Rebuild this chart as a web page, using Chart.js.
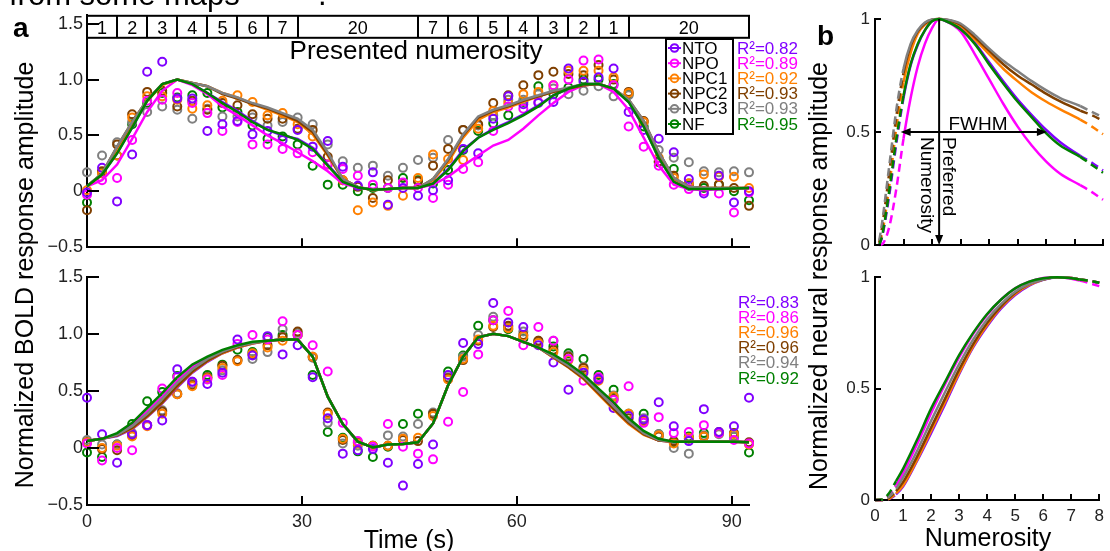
<!DOCTYPE html>
<html><head><meta charset="utf-8">
<script src="https://cdn.jsdelivr.net/npm/chart.js@4.4.1/dist/chart.umd.min.js"></script>
<style>
html,body{margin:0;padding:0;background:#fff;}
#wrap{position:relative;width:1110px;height:551px;overflow:hidden;background:#fff;}
canvas{position:absolute;}
</style></head><body>
<div id="wrap">
<canvas id="cTL" width="812" height="262" style="left:0;top:0;width:812px;height:262px"></canvas>
<canvas id="cBL" width="812" height="289" style="left:0;top:262px;width:812px;height:289px"></canvas>
<canvas id="cTR" width="280" height="262" style="left:830px;top:0;width:280px;height:262px"></canvas>
<canvas id="cBR" width="280" height="289" style="left:830px;top:262px;width:280px;height:289px"></canvas>
<canvas id="ov" width="1110" height="551" style="left:0;top:0;width:1110px;height:551px;pointer-events:none"></canvas>
</div>
<script>
const FONT = '"Liberation Sans", Arial, Helvetica, sans-serif';
Chart.defaults.font.family = FONT;
Chart.defaults.color = '#222';

// ---------- shared ----------
const seriesNames = ['NTO','NPO','NPC1','NPC2','NPC3','NF'];
const seriesColors = ['#8000ff','#ff00ff','#ff8000','#7f3f00','#808080','#008000'];
const r2Top = ['0.82','0.89','0.92','0.93','0.93','0.95'];
const r2Bottom = ['0.83','0.86','0.96','0.96','0.94','0.92'];

// ---------- panel a ----------
const timeS = [0,2.1,4.2,6.3,8.4,10.5,12.6,14.7,16.8,18.9,21,23.1,25.2,27.3,29.4,31.5,33.6,35.7,37.8,39.9,42,44.1,46.2,48.3,50.4,52.5,54.6,56.7,58.8,60.9,63,65.1,67.2,69.3,71.4,73.5,75.6,77.7,79.8,81.9,84,86.1,88.2,90.3,92.4];
const numLabels = ['1','2','3','4','5','6','7','20','7','6','5','4','3','2','1','20'];
const numEdges = [0,4.2,8.4,12.6,16.8,21,25.2,29.4,46.2,50.4,54.6,58.8,63,67.2,71.4,75.6,92.4];
const yTicksA = [-0.5,0,0.5,1,1.5];
const yTickLabelsA = ['\u22120.5','0','0.5','1.0','1.5'];
const xTicksA = [0,30,60,90];
const xTickLabelsA = ['0','30','60','90'];

// top: measured points
const topNTO  = [-0.01,0.21,-0.09,0.33,1.07,1.16,0.83,0.83,0.54,0.60,0.63,0.51,0.54,0.46,0.55,0.40,0.45,0.22,0.05,0.17,-0.12,0.03,-0.04,0.01,0.10,0.38,0.34,0.65,0.85,0.78,0.79,0.80,1.10,0.98,1.02,1.10,0.71,0.55,0.47,0.35,0.11,-0.02,0.14,-0.10,0.00];
const topNPO  = [-0.03,0.10,0.12,0.46,0.81,0.82,0.88,0.79,0.70,0.54,0.62,0.42,0.42,0.38,0.34,0.35,0.24,0.20,0.14,0.06,0.03,0.08,0.03,-0.06,0.06,0.20,0.26,0.54,0.76,0.74,0.80,0.95,1.00,1.17,1.18,0.95,0.58,0.40,0.23,0.06,0.02,0.00,-0.02,-0.19,-0.01];
const topNPC1 = [0.01,0.16,0.32,0.66,0.85,0.85,0.82,0.74,0.77,0.81,0.86,0.80,0.68,0.70,0.60,0.49,0.24,0.10,-0.17,-0.10,-0.13,-0.04,0.12,0.33,0.29,0.28,0.56,0.72,0.79,0.87,0.89,0.95,1.08,1.08,1.08,1.02,0.88,0.62,0.30,0.12,0.07,0.15,0.13,0.13,0.03];
const topNPC2 = [-0.17,0.18,0.42,0.69,0.89,0.90,0.76,0.81,0.73,0.79,0.77,0.69,0.65,0.65,0.56,0.55,0.31,0.10,0.04,-0.06,0.10,0.07,0.09,0.23,0.38,0.55,0.60,0.79,0.86,0.95,1.04,1.07,1.05,1.04,1.13,1.00,0.89,0.63,0.27,0.14,0.07,0.05,0.06,0.03,-0.13];
const topNPC3 = [0.17,0.32,0.44,0.62,0.71,0.76,0.73,0.65,0.74,0.67,0.67,0.66,0.59,0.62,0.66,0.60,0.42,0.27,0.21,0.23,0.14,0.21,0.28,0.30,0.46,0.55,0.59,0.68,0.82,0.82,0.87,0.92,0.87,0.90,0.94,0.85,0.86,0.62,0.37,0.30,0.26,0.18,0.17,0.18,0.17];
const topNF   = [-0.10,0.17,0.32,0.60,0.79,0.88,0.84,0.86,0.88,0.75,0.71,0.59,0.47,0.49,0.42,0.23,0.06,0.06,0.00,0.03,0.03,0.12,0.10,0.07,0.19,0.37,0.54,0.61,0.68,0.80,0.94,0.87,0.93,1.00,1.00,0.96,0.87,0.58,0.26,0.20,0.05,0.03,0.06,0.00,-0.08];
// top: model fits
const fitTopNTO  = [0.045,0.15,0.34,0.57,0.81,0.96,1.0,0.96,0.88,0.80,0.72,0.63,0.55,0.50,0.47,0.39,0.24,0.09,0.035,0.015,0.02,0.03,0.03,0.07,0.20,0.37,0.48,0.56,0.62,0.69,0.77,0.86,0.92,0.96,0.96,0.92,0.80,0.58,0.30,0.09,0.02,0.02,0.02,0.025,0.03];
const fitTopNPO  = [0.045,0.10,0.24,0.47,0.71,0.90,1.0,0.95,0.87,0.76,0.68,0.59,0.50,0.43,0.35,0.27,0.18,0.07,0.035,0.02,0.02,0.03,0.03,0.06,0.13,0.23,0.32,0.41,0.46,0.56,0.68,0.79,0.89,0.95,0.96,0.89,0.73,0.48,0.23,0.06,0.02,0.01,0.02,0.025,0.03];
const fitTopNPC1 = [0.045,0.15,0.38,0.60,0.81,0.95,1.0,0.97,0.94,0.88,0.84,0.78,0.73,0.68,0.62,0.51,0.32,0.11,0.04,0.01,0.02,0.03,0.03,0.10,0.26,0.48,0.64,0.71,0.75,0.80,0.85,0.89,0.92,0.95,0.96,0.92,0.81,0.62,0.34,0.11,0.04,0.03,0.03,0.03,0.03];
const fitTopNPC2 = [0.045,0.16,0.40,0.62,0.82,0.96,1.0,0.97,0.94,0.87,0.83,0.78,0.74,0.69,0.63,0.53,0.33,0.11,0.04,0.01,0.02,0.03,0.03,0.11,0.28,0.50,0.66,0.72,0.76,0.81,0.85,0.89,0.92,0.95,0.96,0.92,0.82,0.63,0.35,0.12,0.04,0.03,0.03,0.03,0.03];
const fitTopNPC3 = [0.045,0.16,0.40,0.62,0.82,0.96,1.0,0.97,0.94,0.88,0.84,0.79,0.75,0.70,0.65,0.55,0.35,0.11,0.04,0.01,0.02,0.03,0.03,0.11,0.29,0.51,0.67,0.73,0.77,0.82,0.86,0.90,0.93,0.96,0.96,0.92,0.82,0.63,0.35,0.12,0.04,0.03,0.03,0.03,0.03];
const fitTopNF   = [0.045,0.15,0.34,0.57,0.81,0.96,1.0,0.96,0.88,0.79,0.71,0.62,0.55,0.51,0.46,0.38,0.23,0.085,0.035,0.015,0.02,0.03,0.03,0.07,0.19,0.36,0.48,0.55,0.61,0.68,0.76,0.86,0.92,0.96,0.96,0.92,0.80,0.58,0.30,0.085,0.02,0.02,0.02,0.025,0.03];

// bottom: measured points
const botNTO  = [0.44,0.12,-0.13,0.12,0.20,0.24,0.69,0.58,0.56,0.66,0.95,0.81,0.98,0.82,0.90,0.62,0.26,-0.05,-0.02,-0.01,-0.13,-0.33,-0.14,0.03,0.64,0.92,0.91,1.27,1.10,1.06,0.90,0.75,0.51,0.66,0.60,0.35,0.28,0.25,0.40,0.19,0.06,0.34,0.14,0.19,0.44];
const botNPO  = [0.04,-0.11,0.00,-0.02,0.20,0.52,0.62,0.58,0.60,0.64,0.91,0.99,0.95,1.11,0.99,0.90,0.67,0.22,0.06,0.01,0.21,0.01,-0.05,-0.10,0.23,0.49,0.82,1.12,1.20,0.90,1.06,0.94,0.78,0.59,0.62,0.42,0.54,0.22,0.27,0.13,0.14,0.20,0.13,0.07,0.04];
const botNPC1 = [0.05,0.00,0.02,0.10,0.19,0.30,0.47,0.54,0.61,0.70,0.76,0.83,0.88,0.94,0.99,0.80,0.30,0.08,0.04,0.02,0.02,0.08,0.09,0.28,0.60,0.78,0.95,1.07,1.05,0.98,0.92,0.84,0.77,0.68,0.59,0.45,0.30,0.23,0.11,0.04,0.09,0.10,0.13,0.12,0.03];
const botNPC2 = [0.05,-0.01,-0.02,0.11,0.20,0.32,0.47,0.55,0.62,0.72,0.77,0.82,0.90,0.97,1.02,0.80,0.31,0.07,0.05,0.02,0.02,0.07,0.06,0.30,0.61,0.77,0.94,1.06,1.07,0.99,0.94,0.86,0.80,0.70,0.61,0.43,0.26,0.24,0.10,0.06,0.08,0.10,0.14,0.13,0.05];
const botNPC3 = [0.07,0.03,0.03,0.13,0.20,0.33,0.48,0.56,0.62,0.68,0.77,0.78,0.84,1.04,1.01,0.79,0.22,0.04,0.02,0.02,0.11,0.10,0.21,0.31,0.62,0.80,0.99,1.15,1.06,1.02,0.94,0.94,0.81,0.71,0.61,0.46,0.30,0.26,0.12,0.00,-0.05,0.11,0.12,0.10,0.04];
const botNF   = [-0.04,-0.08,0.03,0.21,0.41,0.49,0.63,0.56,0.64,0.73,0.86,0.84,0.97,0.99,0.99,0.64,0.14,0.09,-0.03,-0.08,0.01,0.21,0.30,0.30,0.67,0.81,1.07,1.12,1.04,0.96,0.93,0.89,0.83,0.78,0.64,0.51,0.30,0.30,0.12,0.05,0.10,0.13,0.13,0.10,-0.04];
// bottom: model fits
const fitBotNTO  = [0.06,0.08,0.105,0.165,0.27,0.39,0.53,0.66,0.755,0.83,0.88,0.915,0.94,0.95,0.95,0.80,0.45,0.21,0.055,0.005,0.03,0.035,0.05,0.215,0.55,0.80,0.97,1.0,0.98,0.93,0.88,0.795,0.71,0.61,0.475,0.34,0.215,0.12,0.065,0.055,0.055,0.055,0.055,0.055,0.05];
const fitBotNPO  = [0.06,0.08,0.12,0.20,0.32,0.45,0.59,0.71,0.79,0.85,0.895,0.925,0.94,0.95,0.95,0.80,0.45,0.21,0.055,0.005,0.03,0.035,0.05,0.215,0.55,0.80,0.97,1.0,0.98,0.93,0.88,0.81,0.735,0.64,0.515,0.39,0.25,0.14,0.075,0.055,0.055,0.055,0.055,0.055,0.05];
const fitBotNPC1 = [0.06,0.08,0.11,0.17,0.275,0.395,0.54,0.665,0.76,0.83,0.88,0.915,0.94,0.95,0.95,0.80,0.45,0.21,0.055,0.005,0.03,0.035,0.05,0.215,0.55,0.80,0.97,1.0,0.98,0.93,0.88,0.79,0.705,0.605,0.47,0.335,0.21,0.115,0.065,0.055,0.055,0.055,0.055,0.055,0.05];
const fitBotNPC2 = [0.06,0.08,0.11,0.175,0.28,0.40,0.545,0.67,0.765,0.835,0.885,0.92,0.94,0.95,0.95,0.80,0.45,0.21,0.055,0.005,0.03,0.035,0.05,0.215,0.55,0.80,0.97,1.0,0.98,0.93,0.88,0.795,0.71,0.61,0.48,0.345,0.22,0.12,0.065,0.055,0.055,0.055,0.055,0.055,0.05];
const fitBotNPC3 = [0.06,0.08,0.115,0.19,0.30,0.43,0.57,0.69,0.78,0.845,0.89,0.92,0.94,0.95,0.95,0.80,0.45,0.21,0.055,0.005,0.03,0.035,0.05,0.215,0.55,0.80,0.97,1.0,0.98,0.93,0.88,0.80,0.72,0.625,0.495,0.365,0.235,0.13,0.07,0.055,0.055,0.055,0.055,0.055,0.05];
const fitBotNF   = [0.06,0.08,0.13,0.22,0.35,0.48,0.62,0.73,0.80,0.86,0.90,0.93,0.94,0.95,0.95,0.80,0.45,0.21,0.055,0.005,0.03,0.035,0.05,0.215,0.55,0.80,0.97,1.0,0.98,0.93,0.88,0.82,0.74,0.645,0.52,0.40,0.26,0.15,0.08,0.055,0.055,0.055,0.055,0.055,0.05];

// ---------- panel b ----------
const yTicksB = [0,0.5,1];
const yTickLabelsB = ['0','0.5','1'];
const xTicksB = [0,1,2,3,4,5,6,7,8];
const xTickLabelsB = ['0','1','2','3','4','5','6','7','8'];
const prefNumerosity = 2.25;
const fwhmRange = [0.9, 6.03];

const numTop = [0.15,0.25,0.5,0.75,1,1.25,1.5,1.75,2,2.25,2.5,3,3.5,4,4.5,5,5.5,6,6.5,7.2,7.6,8];
const tunTopNTO  = [0,0.035,0.22,0.45,0.65,0.795,0.885,0.95,0.99,1.0,0.99,0.96,0.895,0.81,0.725,0.645,0.575,0.51,0.455,0.395,0.365,0.33];
const tunTopNPO  = [0,0.003,0.08,0.25,0.47,0.65,0.79,0.89,0.96,1.0,0.99,0.945,0.845,0.735,0.625,0.525,0.44,0.37,0.315,0.265,0.235,0.20];
const tunTopNPC1 = [0.01,0.05,0.26,0.52,0.72,0.85,0.935,0.975,0.995,1.0,0.995,0.97,0.91,0.845,0.78,0.725,0.675,0.635,0.60,0.555,0.525,0.49];
const tunTopNPC2 = [0.01,0.08,0.32,0.57,0.76,0.88,0.945,0.98,0.997,1.0,0.997,0.975,0.92,0.86,0.80,0.75,0.71,0.67,0.635,0.595,0.575,0.55];
const tunTopNPC3 = [0.02,0.10,0.35,0.60,0.78,0.89,0.95,0.985,0.998,1.0,0.998,0.98,0.93,0.87,0.815,0.77,0.725,0.685,0.65,0.615,0.59,0.565];
const tunTopNF   = [0,0.04,0.24,0.47,0.66,0.80,0.89,0.95,0.99,1.0,0.99,0.955,0.89,0.80,0.715,0.635,0.565,0.495,0.44,0.39,0.355,0.32];

const numBot = [0,0.25,0.5,0.75,1,1.5,2,2.5,3,3.5,4,4.5,5,5.5,6,6.5,7,7.3,7.6,8];
const tunBotNTO  = [0,0,0.005,0.025,0.06,0.175,0.30,0.43,0.565,0.685,0.78,0.86,0.92,0.962,0.988,1.0,0.997,0.99,0.985,0.975];
const tunBotNPO  = [0,0,0.02,0.065,0.12,0.25,0.39,0.52,0.64,0.745,0.83,0.90,0.95,0.98,0.997,1.0,0.993,0.985,0.975,0.96];
const tunBotNPC1 = [0,0,0.005,0.03,0.065,0.18,0.31,0.44,0.57,0.69,0.785,0.865,0.925,0.965,0.99,1.0,0.997,0.99,0.985,0.975];
const tunBotNPC2 = [0,0,0.01,0.04,0.08,0.195,0.325,0.455,0.585,0.70,0.795,0.87,0.93,0.97,0.99,1.0,0.997,0.99,0.985,0.975];
const tunBotNPC3 = [0,0,0.015,0.05,0.10,0.22,0.355,0.485,0.61,0.72,0.81,0.88,0.935,0.97,0.99,1.0,0.997,0.99,0.985,0.975];
const tunBotNF   = [0,0.002,0.03,0.085,0.14,0.27,0.41,0.53,0.65,0.75,0.835,0.90,0.95,0.98,0.995,1.0,0.995,0.99,0.985,0.975];

// ---------- helpers ----------
const lineOrder = [5,4,3,2,1,0]; // NF drawn on top
function axis(o) {
  return {
    type: 'linear', min: o.min, max: o.max,
    grid: {display: false, drawTicks: false},
    border: {display: true, color: '#000', width: 2},
    afterBuildTicks: ax => { ax.ticks = o.ticks.map(v => ({value: v})); },
    afterFit: ax => { if (o.isY) ax.width = o.size; else ax.height = o.size; },
    ticks: {display: o.show, autoSkip: false, maxRotation: 0, minRotation: 0, padding: o.pad,
            font: {size: o.fs}, color: '#222', callback: (v, i) => o.labels[i]}
  };
}
function panelA(pts, fits) {
  const ds = [];
  fits.forEach((f, k) => ds.push({
    data: timeS.map((t, i) => ({x: t, y: f[i]})), borderColor: seriesColors[k], borderWidth: 2.5,
    pointRadius: 0, tension: 0, fill: false, clip: false, order: lineOrder[k]
  }));
  pts.forEach((p, k) => ds.push({
    data: timeS.map((t, i) => ({x: t, y: p[i]})), showLine: false, borderColor: seriesColors[k],
    backgroundColor: 'rgba(0,0,0,0)', pointRadius: 4, pointBorderWidth: 2,
    pointBorderColor: seriesColors[k], pointBackgroundColor: 'rgba(0,0,0,0)', clip: false, order: 6 + k
  }));
  return ds;
}
function panelB(xs, series, lo, hi) {
  return series.map((vals, k) => ({
    data: xs.map((x, i) => ({x: x, y: vals[i]})), borderColor: seriesColors[k], borderWidth: 2.5,
    pointRadius: 0, fill: false, clip: false, cubicInterpolationMode: 'monotone', order: lineOrder[k],
    segment: {borderDash: c => (xs[c.p1DataIndex] <= lo + 1e-6 || xs[c.p0DataIndex] >= hi - 1e-6) ? [8, 5] : undefined}
  }));
}

// ---------- plugins ----------
const inTicks = {
  id: 'inTicks',
  afterDraw(chart, args, o) {
    const ctx = chart.ctx, xs = chart.scales.x, ys = chart.scales.y, a = chart.chartArea;
    ctx.save(); ctx.strokeStyle = '#000'; ctx.lineWidth = 2; ctx.beginPath();
    xs.ticks.forEach(t => { const p = Math.round(xs.getPixelForValue(t.value)); ctx.moveTo(p, a.bottom); ctx.lineTo(p, a.bottom - o.xLen); });
    ys.ticks.forEach(t => { const p = Math.round(ys.getPixelForValue(t.value)); ctx.moveTo(a.left, p); ctx.lineTo(a.left + o.yLen, p); });
    ctx.stroke(); ctx.restore();
  }
};
const decorA = {
  id: 'decorA',
  afterDraw(chart, args, o) {
    const ctx = chart.ctx, xs = chart.scales.x, a = chart.chartArea;
    ctx.save();
    if (o.boxes) {
      const top = a.top + 1, h = 22;
      ctx.strokeStyle = '#000'; ctx.lineWidth = 2; ctx.fillStyle = '#000';
      const x0 = xs.getPixelForValue(numEdges[0]), x1 = xs.getPixelForValue(numEdges[numEdges.length - 1]);
      ctx.strokeRect(x0, top, x1 - x0, h);
      ctx.beginPath();
      for (let i = 1; i < numEdges.length - 1; i++) { const p = Math.round(xs.getPixelForValue(numEdges[i])); ctx.moveTo(p, top); ctx.lineTo(p, top + h); }
      ctx.stroke();
      ctx.font = '18px ' + FONT; ctx.textAlign = 'center'; ctx.textBaseline = 'alphabetic';
      numLabels.forEach((l, i) => ctx.fillText(l, (xs.getPixelForValue(numEdges[i]) + xs.getPixelForValue(numEdges[i + 1])) / 2, top + 18));
      ctx.font = '26px ' + FONT;
      ctx.fillText('Presented numerosity', 416, 59);
    }
    if (o.legend) {
      ctx.strokeStyle = '#000'; ctx.lineWidth = 2;
      ctx.strokeRect(666, 39, 67, 95);
      ctx.font = '17px ' + FONT; ctx.textAlign = 'left'; ctx.textBaseline = 'middle';
      seriesNames.forEach((n, k) => {
        const y = 48 + 15.2 * k;
        ctx.strokeStyle = seriesColors[k]; ctx.lineWidth = 2;
        ctx.beginPath(); ctx.moveTo(668, y); ctx.lineTo(681, y); ctx.stroke();
        ctx.beginPath(); ctx.arc(674.5, y, 3.8, 0, 2 * Math.PI); ctx.stroke();
        ctx.fillStyle = '#000'; ctx.fillText(n, 682, y + 1);
      });
    }
    if (o.r2) {
      ctx.font = '17px ' + FONT; ctx.textAlign = 'left'; ctx.textBaseline = 'middle';
      o.r2.forEach((v, k) => { ctx.fillStyle = seriesColors[k]; ctx.fillText('R\u00b2=' + v, o.r2x, o.r2y + 15.2 * k + 1); });
    }
    ctx.restore();
  }
};
const decorB = {
  id: 'decorB',
  afterDraw(chart, args, o) {
    if (!o.show) return;
    const ctx = chart.ctx, xs = chart.scales.x, ys = chart.scales.y;
    const px = xs.getPixelForValue(prefNumerosity), yT = ys.getPixelForValue(1), yB = ys.getPixelForValue(0);
    const yh = ys.getPixelForValue(0.5), xa = xs.getPixelForValue(fwhmRange[0]), xb = xs.getPixelForValue(fwhmRange[1]);
    ctx.save(); ctx.strokeStyle = '#000'; ctx.fillStyle = '#000'; ctx.lineWidth = 2;
    ctx.beginPath(); ctx.moveTo(px, yT); ctx.lineTo(px, yB - 8); ctx.moveTo(xa + 8, yh); ctx.lineTo(xb - 8, yh); ctx.stroke();
    ctx.beginPath(); ctx.moveTo(px, yB); ctx.lineTo(px - 4, yB - 10); ctx.lineTo(px + 4, yB - 10); ctx.closePath(); ctx.fill();
    ctx.beginPath(); ctx.moveTo(xa, yh); ctx.lineTo(xa + 10, yh - 4); ctx.lineTo(xa + 10, yh + 4); ctx.closePath(); ctx.fill();
    ctx.beginPath(); ctx.moveTo(xb, yh); ctx.lineTo(xb - 10, yh - 4); ctx.lineTo(xb - 10, yh + 4); ctx.closePath(); ctx.fill();
    ctx.font = '19px ' + FONT; ctx.textAlign = 'center'; ctx.textBaseline = 'alphabetic';
    ctx.fillText('FWHM', 148, yh - 2);
    ctx.translate(px + 4, yh + 5); ctx.rotate(Math.PI / 2); ctx.textAlign = 'left';
    ctx.fillText('Preferred', 0, 0);
    ctx.fillText('Numerosity', 0, 22);
    ctx.restore();
  }
};

function makeChart(id, datasets, pad, xs, ys, plug) {
  return new Chart(document.getElementById(id), {
    type: 'line',
    data: {datasets},
    options: {
      responsive: false, animation: false, devicePixelRatio: 1,
      layout: {padding: pad},
      scales: {x: xs, y: ys},
      plugins: Object.assign({legend: {display: false}, tooltip: {enabled: false}}, plug)
    },
    plugins: [inTicks, decorA, decorB]
  });
}

// top-left
makeChart('cTL',
  panelA([topNTO, topNPO, topNPC1, topNPC2, topNPC3, topNF], [fitTopNTO, fitTopNPO, fitTopNPC1, fitTopNPC2, fitTopNPC3, fitTopNF]),
  {top: 13, right: 63, left: 0, bottom: 0},
  axis({min: 0, max: 92.4, ticks: xTicksA, labels: xTickLabelsA, show: false, fs: 18, pad: 6, size: 11}),
  axis({min: -0.5, max: 1.58, ticks: yTicksA, labels: yTickLabelsA, show: true, fs: 18, pad: 4, size: 87, isY: true}),
  {inTicks: {xLen: 9, yLen: 12}, decorA: {boxes: true, legend: true, r2: r2Top, r2x: 737, r2y: 48}, decorB: {show: false}});

// bottom-left
makeChart('cBL',
  panelA([botNTO, botNPO, botNPC1, botNPC2, botNPC3, botNF], [fitBotNTO, fitBotNPO, fitBotNPC1, fitBotNPC2, fitBotNPC3, fitBotNF]),
  {top: 14, right: 63, left: 0, bottom: 0},
  axis({min: 0, max: 92.4, ticks: xTicksA, labels: xTickLabelsA, show: true, fs: 18, pad: 6, size: 46}),
  axis({min: -0.5, max: 1.5, ticks: yTicksA, labels: yTickLabelsA, show: true, fs: 18, pad: 4, size: 87, isY: true}),
  {inTicks: {xLen: 9, yLen: 12}, decorA: {boxes: false, legend: false, r2: r2Bottom, r2x: 738, r2y: 40}, decorB: {show: false}});

// top-right
makeChart('cTR',
  panelB(numTop, [tunTopNTO, tunTopNPO, tunTopNPC1, tunTopNPC2, tunTopNPC3, tunTopNF], 1, 7.2),
  {top: 19, right: 7, left: 0, bottom: 0},
  axis({min: 0, max: 8, ticks: xTicksB, labels: xTickLabelsB, show: false, fs: 17, pad: 4, size: 17}),
  axis({min: 0, max: 1, ticks: yTicksB, labels: yTickLabelsB, show: true, fs: 17, pad: 5, size: 45, isY: true}),
  {inTicks: {xLen: 6, yLen: 6}, decorA: {}, decorB: {show: true}});

// bottom-right
makeChart('cBR',
  panelB(numBot, [tunBotNTO, tunBotNPO, tunBotNPC1, tunBotNPC2, tunBotNPC3, tunBotNF], 0.75, 7.3),
  {top: 11, right: 7, left: 0, bottom: 0},
  axis({min: 0, max: 8, ticks: xTicksB, labels: xTickLabelsB, show: true, fs: 17, pad: 6, size: 51}),
  axis({min: 0, max: 1, ticks: yTicksB, labels: yTickLabelsB, show: true, fs: 17, pad: 5, size: 45, isY: true}),
  {inTicks: {xLen: 6, yLen: 6}, decorA: {}, decorB: {show: false}});

// ---------- static labels ----------
const ov = document.getElementById('ov').getContext('2d');
ov.fillStyle = '#000'; ov.textBaseline = 'alphabetic';
ov.font = '31px ' + FONT; ov.textAlign = 'left';
ov.fillText('from some maps', 9, 5); ov.fillText('.', 318, 5);
ov.font = 'bold 28px ' + FONT;
ov.fillText('a', 13, 37); ov.fillText('b', 817, 45);
ov.font = '25px ' + FONT; ov.textAlign = 'center';
ov.fillText('Time (s)', 409, 548);
ov.fillText('Numerosity', 988, 546);
ov.save(); ov.translate(33, 275); ov.rotate(-Math.PI / 2); ov.fillText('Normalized BOLD response amplitude', 0, 0); ov.restore();
ov.save(); ov.translate(827, 276); ov.rotate(-Math.PI / 2); ov.fillText('Normalized neural response amplitude', 0, 0); ov.restore();
</script>
</body></html>
